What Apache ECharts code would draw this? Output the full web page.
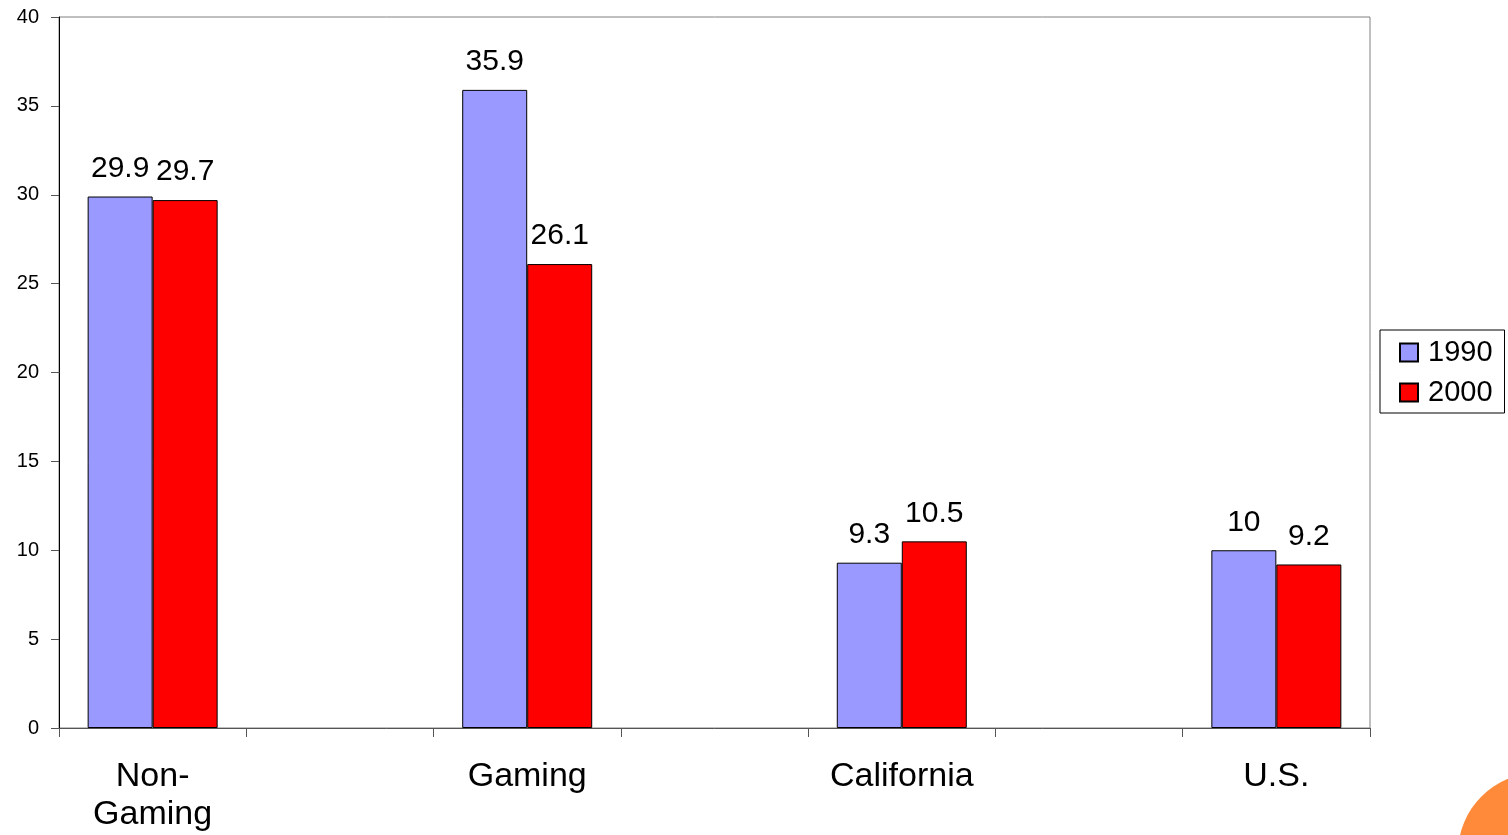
<!DOCTYPE html>
<html>
<head>
<meta charset="utf-8">
<script src="https://cdn.jsdelivr.net/npm/echarts@6/dist/echarts.min.js"></script>
<style>
  html, body { margin: 0; padding: 0; background: #fff; }
  #chart { width: 1508px; height: 835px; }
</style>
</head>
<body>
<div id="chart"></div>
<script>
// blank categories sit between the real ones, like the original slide
const categories = ["Non-\nGaming", "", "Gaming", "", "California", "", "U.S."];
const values1990 = [29.9, null, 35.9, null, 9.3, null, 10];
const values2000 = [29.7, null, 26.1, null, 10.5, null, 9.2];
const yTicks = [0, 5, 10, 15, 20, 25, 30, 35, 40];

const chart = echarts.init(document.getElementById("chart"));

const labelStyle = {
  show: true,
  position: "top",
  distance: 13,
  fontFamily: "Liberation Sans",
  fontSize: 30,
  color: "#000",
};

const option = {
  animation: false,
  textStyle: { fontFamily: "Liberation Sans" },
  grid: {
    left: 59,
    right: 138,
    top: 17,
    bottom: 107,
    show: true,
    borderColor: "#808080",
    borderWidth: 1,
  },
  legend: {
    orient: "vertical",
    left: 1380,
    top: 330,
    padding: [8, 12, 6, 19],
    itemGap: 11,
    itemWidth: 18,
    itemHeight: 18,
    borderColor: "#000",
    borderWidth: 1,
    backgroundColor: "#fff",
    textStyle: { fontSize: 29, color: "#000", padding: [0, 0, 0, 5] },
    data: [
      { name: "1990", icon: "rect" },
      { name: "2000", icon: "rect" },
    ],
  },
  xAxis: {
    type: "category",
    data: categories,
    axisLine: { lineStyle: { color: "#555", width: 1 } },
    axisTick: { show: true, length: 9, lineStyle: { color: "#555" } },
    axisLabel: {
      interval: 0,
      fontSize: 34,
      color: "#000",
      margin: 30,
      lineHeight: 38,
    },
  },
  yAxis: {
    type: "value",
    min: yTicks[0],
    max: yTicks[yTicks.length - 1],
    interval: 5,
    axisLine: { show: true, lineStyle: { color: "#000", width: 1 } },
    axisTick: { show: true, length: 8, lineStyle: { color: "#555" } },
    axisLabel: { fontSize: 20, color: "#000", margin: 20 },
    splitLine: { show: false },
  },
  series: [
    {
      name: "1990",
      type: "bar",
      data: values1990,
      barWidth: 65,
      barGap: "0%",
      itemStyle: { color: "#9999FF", borderColor: "#000", borderWidth: 1 },
      label: labelStyle,
    },
    {
      name: "2000",
      type: "bar",
      data: values2000,
      barWidth: 65,
      itemStyle: { color: "#FF0000", borderColor: "#000", borderWidth: 1 },
      label: labelStyle,
    },
  ],
  graphic: [
    {
      type: "circle",
      shape: { cx: 1538, cy: 853, r: 80 },
      style: { fill: "#FF8A3A" },
      silent: true,
    },
  ],
};

chart.setOption(option);
</script>
</body>
</html>
